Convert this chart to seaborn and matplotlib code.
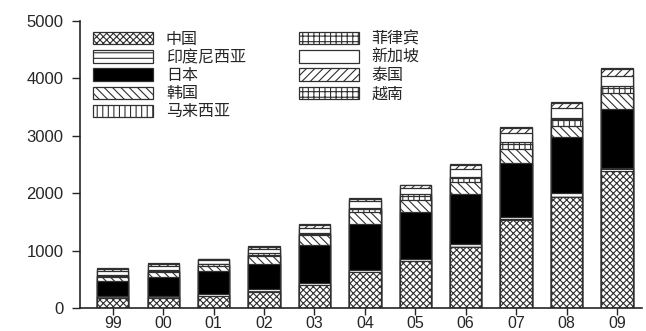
import matplotlib
matplotlib.use("Agg")
import matplotlib.pyplot as plt
from matplotlib.patches import Patch
import numpy as np
import pandas as pd
import seaborn as sns

years = ["99", "00", "01", "02", "03", "04", "05", "06", "07", "08", "09"]

# values, stacked bottom -> top
china = [170, 170, 210, 285, 400, 625, 820, 1070, 1535, 1940, 2380]
indonesia = [35, 45, 40, 40, 40, 40, 35, 40, 55, 60, 60]
japan = [260, 330, 395, 450, 660, 800, 815, 870, 930, 975, 1030]
korea = [80, 88, 90, 125, 175, 200, 215, 210, 250, 200, 275]
malaysia = [20, 20, 25, 30, 20, 60, 70, 70, 90, 100, 90]
philippines = [15, 15, 15, 20, 15, 25, 25, 25, 30, 30, 30]
singapore = [70, 70, 55, 80, 90, 110, 110, 135, 165, 175, 175]
thailand = [30, 30, 20, 40, 40, 45, 45, 70, 80, 85, 120]
vietnam = [10, 10, 10, 15, 15, 15, 15, 20, 20, 20, 25]

names = ["中国", "印度尼西亚", "日本", "韩国", "马来西亚", "菲律宾", "新加坡", "泰国", "越南"]
series = [china, indonesia, japan, korea, malaysia, philippines, singapore, thailand, vietnam]
styles = [  # facecolor, hatch
    ("white", "xxxxx"),
    ("white", "---"),
    ("black", ""),
    ("white", "\\\\\\\\"),
    ("white", "|||"),
    ("white", "+++"),
    ("white", ""),
    ("white", "////"),
    ("white", "+++"),
]

sns.set_style("ticks")
plt.rcParams["font.family"] = ["Liberation Sans", "DejaVu Sans"]
plt.rcParams["hatch.linewidth"] = 0.8

fig = plt.figure(figsize=(6.46, 3.31), dpi=100)
ax = fig.add_axes([0.124, 0.0695, 0.87, 0.867])

df = pd.DataFrame(dict(zip(names, series)), index=years)
cum = df.cumsum(axis=1)

# draw cumulative totals from the top down so every segment sits on the one below
for name, (fc, hatch) in reversed(list(zip(names, styles))):
    sns.barplot(x=years, y=cum[name].values, color=fc, saturation=1,
                hatch=hatch, edgecolor="#303030", linewidth=0.9,
                width=0.62, ax=ax)

ax.set_ylim(0, 5000)
ax.set_xlim(-0.65, 10.5)
ax.set_yticks(range(0, 5001, 1000))
ax.set_ylabel("")
ax.set_xlabel("")
sns.despine(ax=ax)
ax.spines["left"].set_linewidth(1.2)
ax.spines["bottom"].set_linewidth(1.2)
ax.tick_params(axis="y", labelsize=12, length=6, width=1, pad=6)
ax.tick_params(axis="x", labelsize=11.5, length=5, width=1, pad=1)

handles = [Patch(facecolor=fc, hatch=h, edgecolor="#303030", linewidth=0.9)
           for fc, h in styles]
ax.legend(handles, names, ncol=2, loc="upper left", bbox_to_anchor=(0.012, 0.988),
          frameon=False, prop={"family": ["Noto Sans CJK SC"], "size": 11.5},
          handlelength=3.75, handleheight=0.8, handletextpad=0.8,
          labelspacing=0.07, columnspacing=3.3, borderaxespad=0)

fig.savefig("out.png", dpi=100)
